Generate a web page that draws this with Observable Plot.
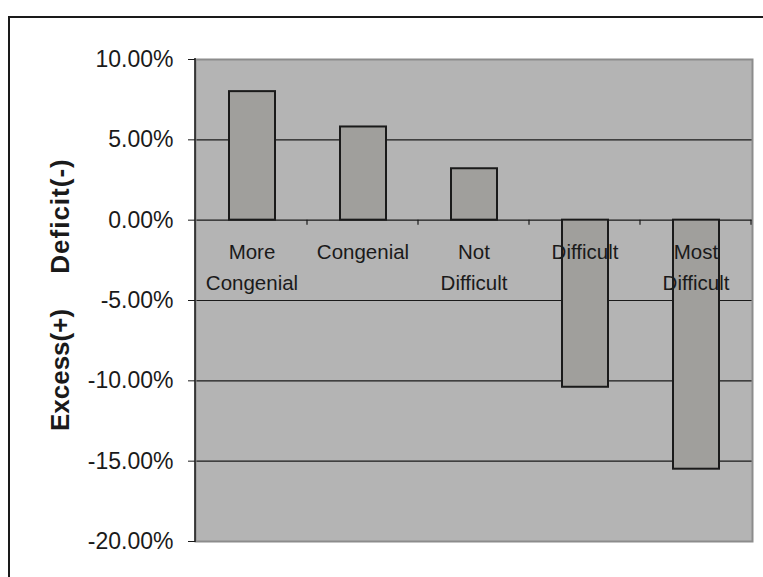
<!DOCTYPE html>
<html>
<head>
<meta charset="utf-8">
<script src="https://cdn.jsdelivr.net/npm/d3@7"></script>
<script src="https://cdn.jsdelivr.net/npm/@observablehq/plot@0.6"></script>
<style>
  html, body { margin: 0; padding: 0; background: #fff; }
  #chart { position: relative; width: 763px; height: 577px; overflow: hidden; }
  svg { font-family: "Liberation Sans", Arial, sans-serif; }
</style>
</head>
<body>
<div id="chart"></div>
<script>
const categories = ["More\nCongenial", "Congenial", "Not\nDifficult", "Difficult", "Most\nDifficult"];
const values = [8.0, 5.8, 3.2, -10.4, -15.5];
const yTicks = [10, 5, 0, -5, -10, -15, -20];
const gridValues = [5, 0, -5, -10, -15];
const titleParts = ["Excess(+)", "Deficit(-)"];

(function () {
const data = categories.map((c, i) => ({category: c, value: values[i]}));

const W = 763, H = 577;
const plot = Plot.plot({
  width: W,
  height: H,
  marginLeft: 195,
  marginRight: 11,
  marginTop: 59,
  marginBottom: 36,
  style: {background: "transparent", fontFamily: "Liberation Sans, Arial, sans-serif", color: "#1a1a1a"},
  x: {domain: categories, padding: 0, axis: null},
  y: {domain: [-20, 10], axis: null},
  marks: [
    Plot.frame({fill: "#b4b4b4"}),
    Plot.ruleY(gridValues, {stroke: "#1a1a1a", strokeWidth: 1.2}),
    Plot.barY(data, {x: "category", y1: 0, y2: "value", fill: "#a09f9c", stroke: "#1a1a1a", strokeWidth: 2, insetLeft: 33, insetRight: 32}),
    Plot.text(data, {x: "category", y: 0, text: "category", lineAnchor: "top", lineHeight: 1.5, dy: 17, fontSize: 20.5, fill: "#1a1a1a"}),
    Plot.frame({stroke: "#8c8c8c", strokeWidth: 2}),
    Plot.axisY({ticks: yTicks, tickFormat: d => d.toFixed(2) + "%", tickSize: 7, tickPadding: 15, fontSize: 23, label: null, stroke: "#1a1a1a"})
  ]
});

const svg = d3.select(plot);
const xs = plot.scale("x");
const ys = plot.scale("y");
const y0 = ys.apply(0);
const yTop = ys.apply(10), yBottom = ys.apply(-20);
const xLeft = 195;

svg.append("line").attr("x1", xLeft).attr("x2", xLeft).attr("y1", yTop - 1).attr("y2", yBottom + 1)
  .attr("stroke", "#1a1a1a").attr("stroke-width", 1.5);

categories.forEach(c => {
  const xb = xs.apply(c) + xs.bandwidth;
  svg.append("line").attr("x1", xb).attr("x2", xb).attr("y1", y0).attr("y2", y0 + 5)
    .attr("stroke", "#1a1a1a").attr("stroke-width", 1.2);
});

const g = svg.append("g").attr("transform", "translate(60,0)");
g.append("text").attr("transform", `translate(0,370) rotate(-90)`)
  .attr("text-anchor", "middle").attr("dominant-baseline", "central")
  .attr("font-size", 26).attr("font-weight", "bold").attr("fill", "#1a1a1a").text(titleParts[0]);
g.append("text").attr("transform", `translate(0,216) rotate(-90)`)
  .attr("text-anchor", "middle").attr("dominant-baseline", "central")
  .attr("letter-spacing", 1).attr("font-size", 26).attr("font-weight", "bold").attr("fill", "#1a1a1a").text(titleParts[1]);

svg.append("line").attr("x1", 8).attr("x2", W).attr("y1", 17).attr("y2", 17)
  .attr("stroke", "#1a1a1a").attr("stroke-width", 2);
svg.append("line").attr("x1", 9).attr("x2", 9).attr("y1", 16).attr("y2", H)
  .attr("stroke", "#1a1a1a").attr("stroke-width", 2);

document.getElementById("chart").appendChild(plot);
})();
</script>
</body>
</html>
